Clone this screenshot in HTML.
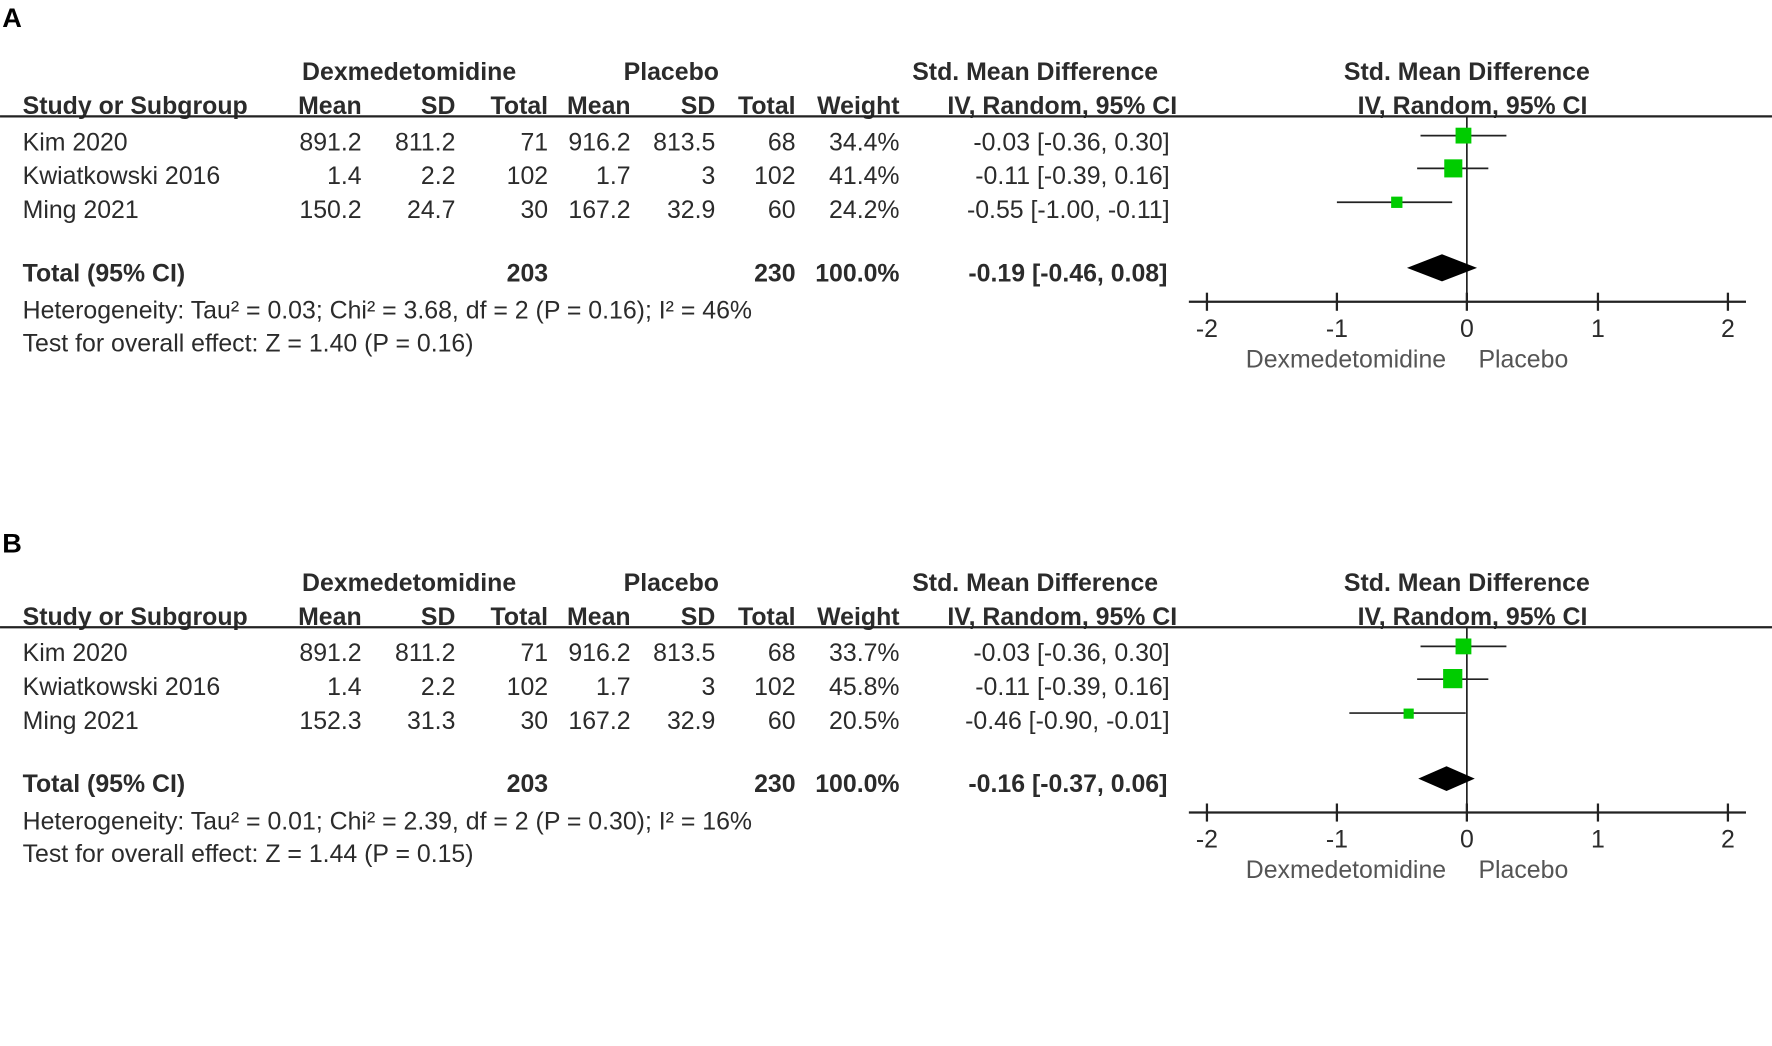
<!DOCTYPE html>
<html><head><meta charset="utf-8"><style>
html,body{margin:0;padding:0;background:#fff;}
svg{display:block}
text{font-family:"Liberation Sans",Arial,sans-serif;fill:#2b2b2b;}
.b{font-weight:bold;font-size:22px}
.n{font-size:22px}
.r{text-anchor:end}
.c{text-anchor:middle}
</style></head><body>
<svg width="1772" height="1046" viewBox="0 0 1568 925.6" xmlns="http://www.w3.org/2000/svg">
<defs>
<g id="hdr">
  <text class="b c" x="362" y="71">Dexmedetomidine</text>
  <text class="b c" x="594" y="71">Placebo</text>
  <text class="b c" x="916" y="71">Std. Mean Difference</text>
  <text class="b c" x="1298" y="71">Std. Mean Difference</text>
  <text class="b" x="20" y="101">Study or Subgroup</text>
  <text class="b r" x="320" y="101">Mean</text>
  <text class="b r" x="403" y="101">SD</text>
  <text class="b r" x="485" y="101">Total</text>
  <text class="b r" x="558" y="101">Mean</text>
  <text class="b r" x="633" y="101">SD</text>
  <text class="b r" x="704" y="101">Total</text>
  <text class="b r" x="796" y="101">Weight</text>
  <text class="b c" x="940" y="101">IV, Random, 95% CI</text>
  <text class="b c" x="1303" y="101">IV, Random, 95% CI</text>
  <line x1="0" y1="103" x2="1568" y2="103" stroke="#222" stroke-width="2"/>
  <line x1="1298" y1="103" x2="1298" y2="267" stroke="#222" stroke-width="1.5"/>
  <line x1="1052" y1="267" x2="1545" y2="267" stroke="#222" stroke-width="2"/>
  <g stroke="#222" stroke-width="2">
    <line x1="1068" y1="259" x2="1068" y2="275"/>
    <line x1="1183" y1="259" x2="1183" y2="275"/>
    <line x1="1298" y1="259" x2="1298" y2="275"/>
    <line x1="1414" y1="259" x2="1414" y2="275"/>
    <line x1="1529" y1="259" x2="1529" y2="275"/>
  </g>
  <text class="n c" x="1068" y="298">-2</text>
  <text class="n c" x="1183" y="298">-1</text>
  <text class="n c" x="1298" y="298">0</text>
  <text class="n c" x="1414" y="298">1</text>
  <text class="n c" x="1529" y="298">2</text>
  <text class="n c" x="1191" y="325" style="fill:#555">Dexmedetomidine</text>
  <text class="n c" x="1348" y="325" style="fill:#555">Placebo</text>
</g>
</defs>

<text x="2" y="24" style="font-weight:bold;font-size:24px;fill:#000">A</text>
<use href="#hdr"/>
<text class="n" x="20" y="133">Kim 2020</text>
<text class="n r" x="320" y="133">891.2</text><text class="n r" x="403" y="133">811.2</text><text class="n r" x="485" y="133">71</text>
<text class="n r" x="558" y="133">916.2</text><text class="n r" x="633" y="133">813.5</text><text class="n r" x="704" y="133">68</text>
<text class="n r" x="796" y="133">34.4%</text><text class="n r" x="1035" y="133">-0.03 [-0.36, 0.30]</text>
<text class="n" x="20" y="163">Kwiatkowski 2016</text>
<text class="n r" x="320" y="163">1.4</text><text class="n r" x="403" y="163">2.2</text><text class="n r" x="485" y="163">102</text>
<text class="n r" x="558" y="163">1.7</text><text class="n r" x="633" y="163">3</text><text class="n r" x="704" y="163">102</text>
<text class="n r" x="796" y="163">41.4%</text><text class="n r" x="1035" y="163">-0.11 [-0.39, 0.16]</text>
<text class="n" x="20" y="193">Ming 2021</text>
<text class="n r" x="320" y="193">150.2</text><text class="n r" x="403" y="193">24.7</text><text class="n r" x="485" y="193">30</text>
<text class="n r" x="558" y="193">167.2</text><text class="n r" x="633" y="193">32.9</text><text class="n r" x="704" y="193">60</text>
<text class="n r" x="796" y="193">24.2%</text><text class="n r" x="1035" y="193">-0.55 [-1.00, -0.11]</text>
<text class="b" x="20" y="249">Total (95% CI)</text>
<text class="b r" x="485" y="249">203</text><text class="b r" x="704" y="249">230</text>
<text class="b r" x="796" y="249">100.0%</text><text class="b r" x="1033" y="249">-0.19 [-0.46, 0.08]</text>
<text class="n" x="20" y="282">Heterogeneity: Tau² = 0.03; Chi² = 3.68, df = 2 (P = 0.16); I² = 46%</text>
<text class="n" x="20" y="311">Test for overall effect: Z = 1.40 (P = 0.16)</text>
<g stroke="#222" stroke-width="1.5">
<line x1="1257" y1="120" x2="1333" y2="120"/>
<line x1="1254" y1="149" x2="1317" y2="149"/>
<line x1="1183" y1="179" x2="1285" y2="179"/>
</g>
<g fill="#00cc00">
<rect x="1288" y="113" width="14" height="14"/>
<rect x="1278" y="141" width="16" height="16"/>
<rect x="1231" y="174" width="10" height="10"/>
</g>
<polygon points="1245,237 1276,225 1307,237 1276,249" fill="#000"/>

<text x="2" y="489" style="font-weight:bold;font-size:24px;fill:#000">B</text>
<g transform="translate(0,452)">
<use href="#hdr"/>
<text class="n" x="20" y="133">Kim 2020</text>
<text class="n r" x="320" y="133">891.2</text><text class="n r" x="403" y="133">811.2</text><text class="n r" x="485" y="133">71</text>
<text class="n r" x="558" y="133">916.2</text><text class="n r" x="633" y="133">813.5</text><text class="n r" x="704" y="133">68</text>
<text class="n r" x="796" y="133">33.7%</text><text class="n r" x="1035" y="133">-0.03 [-0.36, 0.30]</text>
<text class="n" x="20" y="163">Kwiatkowski 2016</text>
<text class="n r" x="320" y="163">1.4</text><text class="n r" x="403" y="163">2.2</text><text class="n r" x="485" y="163">102</text>
<text class="n r" x="558" y="163">1.7</text><text class="n r" x="633" y="163">3</text><text class="n r" x="704" y="163">102</text>
<text class="n r" x="796" y="163">45.8%</text><text class="n r" x="1035" y="163">-0.11 [-0.39, 0.16]</text>
<text class="n" x="20" y="193">Ming 2021</text>
<text class="n r" x="320" y="193">152.3</text><text class="n r" x="403" y="193">31.3</text><text class="n r" x="485" y="193">30</text>
<text class="n r" x="558" y="193">167.2</text><text class="n r" x="633" y="193">32.9</text><text class="n r" x="704" y="193">60</text>
<text class="n r" x="796" y="193">20.5%</text><text class="n r" x="1035" y="193">-0.46 [-0.90, -0.01]</text>
<text class="b" x="20" y="249">Total (95% CI)</text>
<text class="b r" x="485" y="249">203</text><text class="b r" x="704" y="249">230</text>
<text class="b r" x="796" y="249">100.0%</text><text class="b r" x="1033" y="249">-0.16 [-0.37, 0.06]</text>
<text class="n" x="20" y="282">Heterogeneity: Tau² = 0.01; Chi² = 2.39, df = 2 (P = 0.30); I² = 16%</text>
<text class="n" x="20" y="311">Test for overall effect: Z = 1.44 (P = 0.15)</text>
<g stroke="#222" stroke-width="1.5">
<line x1="1257" y1="120" x2="1333" y2="120"/>
<line x1="1254" y1="149" x2="1317" y2="149"/>
<line x1="1194" y1="179" x2="1297" y2="179"/>
</g>
<g fill="#00cc00">
<rect x="1288" y="113" width="14" height="14"/>
<rect x="1277" y="140" width="17" height="17"/>
<rect x="1242" y="175" width="9" height="9"/>
</g>
<polygon points="1255,237 1280,226 1305,237 1280,248" fill="#000"/>
</g>
</svg>
</body></html>
